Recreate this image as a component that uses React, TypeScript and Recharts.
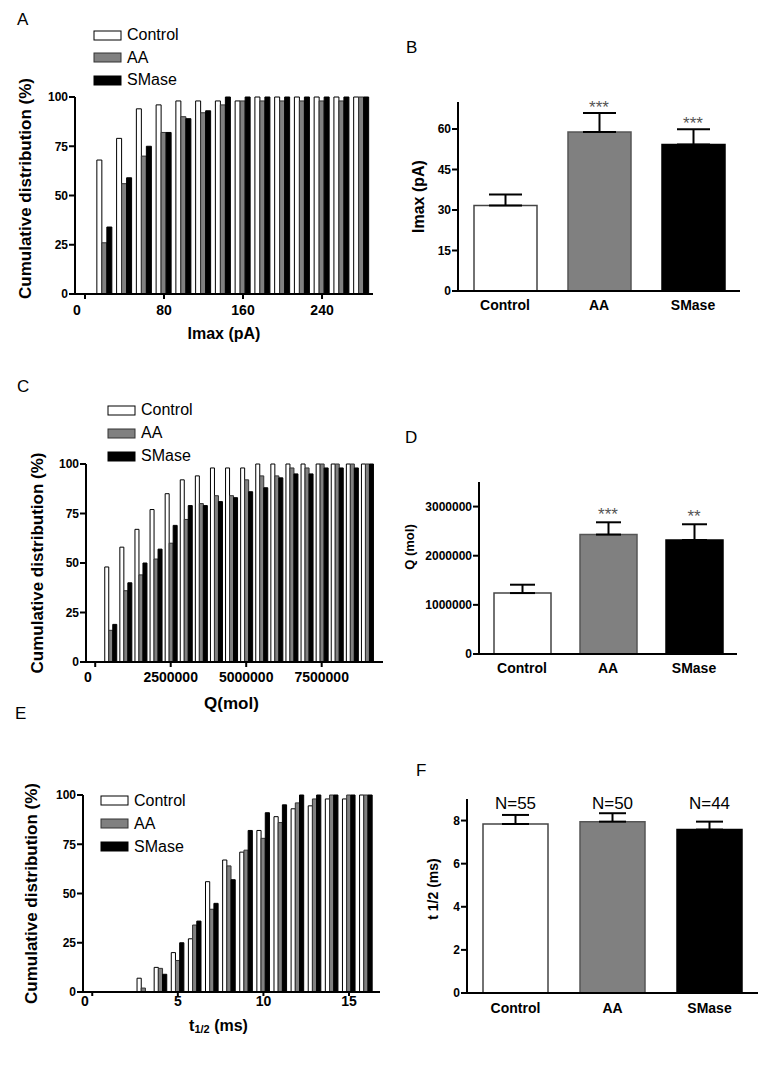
import React from "react";
import {
  BarChart,
  Bar,
  ComposedChart,
  Line,
  XAxis,
  YAxis,
  ErrorBar,
  LabelList,
  Label,
  Legend,
  Cell,
} from "recharts";

const groups = ["Control", "AA", "SMase"];
const fills = ["#ffffff", "#808080", "#000000"];
const histStrokes = ["#000000", "#333333", "#000000"];
const barStrokes = ["#444444", "#555555", "#000000"];

// A - Imax cumulative distribution (bin centre, pA)
const imaxBins = [20, 40, 60, 80, 100, 120, 140, 160, 180, 200, 220, 240, 260, 280];
const imaxControl = [68, 79, 94, 96, 98, 98, 98, 98, 100, 100, 100, 100, 100, 100];
const imaxAA = [26, 56, 70, 82, 90, 92, 96, 98, 98, 98, 98, 98, 98, 100];
const imaxSMase = [34, 59, 75, 82, 89, 93, 100, 100, 100, 100, 100, 100, 100, 100];
const imaxTicks = [0, 80, 160, 240];

// B - mean Imax
const imaxMean = [31.7, 58.9, 54.3];
const imaxSem = [4.0, 7.0, 5.6];
const imaxStars = ["", "***", "***"];

// C - Q cumulative distribution (bin centre, mol)
const qBins = [
  500000, 1000000, 1500000, 2000000, 2500000, 3000000, 3500000, 4000000, 4500000,
  5000000, 5500000, 6000000, 6500000, 7000000, 7500000, 8000000, 8500000, 9000000,
];
const qControl = [48, 58, 67, 77, 85, 92, 94, 98, 98, 98, 100, 100, 100, 100, 100, 100, 100, 100];
const qAA = [16, 36, 44, 52, 60, 72, 80, 84, 84, 92, 94, 94, 98, 98, 100, 100, 100, 100];
const qSMase = [19, 40, 50, 57, 69, 79, 79, 81, 83, 86, 88, 93, 95, 95, 98, 98, 98, 100];
const qTicks = [0, 2500000, 5000000, 7500000];

// D - mean Q
const qMean = [1240000, 2430000, 2320000];
const qSem = [170000, 250000, 320000];
const qStars = ["", "***", "**"];

// E - t1/2 cumulative distribution (bin centre, ms)
const tBins = [3, 4, 5, 6, 7, 8, 9, 10, 11, 12, 13, 14, 15, 16];
const tControl = [7, 12.5, 20, 27, 56, 67, 71, 82, 89, 93, 94.5, 98, 98, 100];
const tAA = [2, 12, 16, 34, 42, 64, 72, 78, 86, 96, 98, 100, 100, 100];
const tSMase = [0, 9, 25, 36, 45, 57, 82, 91, 95, 100, 100, 100, 100, 100];
const tTicks = [0, 5, 10, 15];

// F - mean t1/2
const tMean = [7.84, 7.95, 7.58];
const tSem = [0.42, 0.39, 0.37];
const tN = ["N=55", "N=50", "N=44"];

const axisStroke = { stroke: "#000", strokeWidth: 2 };

function YTitle({ viewBox, x, dy = 0, size, children }: any) {
  const cy = viewBox.y + viewBox.height / 2 + dy;
  return (
    <text
      x={x}
      y={cy}
      transform={`rotate(-90 ${x} ${cy})`}
      textAnchor="middle"
      dominantBaseline="central"
      fontWeight="bold"
      fontSize={size}
      fill="#000"
    >
      {children}
    </text>
  );
}

function XTitle({ viewBox, dx = 0, dy, size, children }: any) {
  const cx = viewBox.x + viewBox.width / 2 + dx;
  return (
    <text
      x={cx}
      y={viewBox.y + dy}
      textAnchor="middle"
      dominantBaseline="central"
      fontWeight="bold"
      fontSize={size}
      fill="#000"
    >
      {children}
    </text>
  );
}

function SwatchLegend({ rowH }: { rowH: number }) {
  return (
    <div>
      {groups.map((g, i) => (
        <div key={g} style={{ display: "flex", alignItems: "center", height: rowH }}>
          <svg width={29} height={11}>
            <rect x={1} y={1} width={27} height={9} fill={fills[i]} stroke={histStrokes[i]} strokeWidth={1} />
          </svg>
          <span style={{ marginLeft: 5, fontSize: 16, color: "#000" }}>{g}</span>
        </div>
      ))}
    </div>
  );
}

function Histogram(p: any) {
  const data = p.bins.map((x: number, i: number) => ({
    x,
    control: p.control[i],
    aa: p.aa[i],
    smase: p.smase[i],
  }));
  // GraphPad draws the "0" label at the start of the axis
  const renderTick = (tp: any) => (
    <text
      x={tp.payload.value === 0 ? p.yAxisWidth + 2 : tp.x}
      y={tp.y}
      dy="0.71em"
      textAnchor="middle"
      fontSize={14}
      fontWeight="bold"
      fill="#000"
    >
      {tp.payload.value}
    </text>
  );
  return (
    <div style={{ position: "absolute", left: 0, top: p.top }}>
      <BarChart
        width={p.width}
        height={p.height}
        data={data}
        barGap={0}
        margin={{ top: p.marginTop, right: p.marginRight, bottom: 0, left: 0 }}
      >
        <XAxis
          type="number"
          dataKey="x"
          domain={p.domain}
          ticks={p.ticks}
          allowDataOverflow
          interval={0}
          height={p.xHeight}
          axisLine={axisStroke}
          tickLine={axisStroke}
          tickSize={p.xTickSize}
          tickMargin={p.xTickMargin}
          tick={renderTick}
        >
          <Label
            content={(lp: any) => (
              <XTitle viewBox={lp.viewBox} dx={p.titleDx} dy={p.titleDy} size={p.titleSize}>
                {p.title}
              </XTitle>
            )}
          />
        </XAxis>
        <YAxis
          type="number"
          domain={[0, 100]}
          ticks={[0, 25, 50, 75, 100]}
          interval={0}
          width={p.yAxisWidth}
          axisLine={axisStroke}
          tickLine={axisStroke}
          tickSize={6}
          tickMargin={1}
          tick={{ fontSize: 12, fontWeight: "bold", fill: "#000" }}
        >
          <Label
            content={(lp: any) => (
              <YTitle viewBox={lp.viewBox} x={p.yTitleX} dy={p.yTitleDy} size={17}>
                Cumulative distribution (%)
              </YTitle>
            )}
          />
        </YAxis>
        <Legend
          layout="vertical"
          verticalAlign="middle"
          align="center"
          wrapperStyle={{ left: p.legendLeft, top: p.legendTop, width: 130 }}
          content={() => <SwatchLegend rowH={p.legendRow} />}
        />
        <Bar dataKey="control" fill={fills[0]} stroke={histStrokes[0]} strokeWidth={1} barSize={p.barSize} isAnimationActive={false} />
        <Bar dataKey="aa" fill={fills[1]} stroke={histStrokes[1]} strokeWidth={1} barSize={p.barSize} isAnimationActive={false} />
        <Bar dataKey="smase" fill={fills[2]} stroke={histStrokes[2]} strokeWidth={1} barSize={p.barSize} isAnimationActive={false} />
      </BarChart>
    </div>
  );
}

function Summary(p: any) {
  const data = groups.map((name, i) => ({
    name,
    value: p.values[i],
    err: [0, p.errors[i]],
    top: p.values[i] + p.errors[i],
    mark: p.marks ? p.marks[i] : "",
    n: p.nLabels ? p.nLabels[i] : "",
  }));
  return (
    <div style={{ position: "absolute", left: 400, top: p.top }}>
      <ComposedChart
        width={p.width}
        height={p.height}
        data={data}
        margin={{ top: p.marginTop, right: 5, bottom: 0, left: 0 }}
      >
        <XAxis
          dataKey="name"
          height={30}
          axisLine={axisStroke}
          tickLine={false}
          tickSize={5}
          tickMargin={p.xTickMargin}
          tick={{ fontSize: 14, fontWeight: "bold", fill: "#000" }}
        />
        <YAxis
          type="number"
          domain={p.domain}
          ticks={p.ticks}
          interval={0}
          width={p.yAxisWidth}
          axisLine={axisStroke}
          tickLine={axisStroke}
          tickSize={6}
          tickMargin={1}
          tick={{ fontSize: 12, fontWeight: "bold", fill: "#000" }}
        >
          <Label
            content={(lp: any) => (
              <YTitle viewBox={lp.viewBox} x={p.titleX} dy={p.titleDy} size={p.titleSize}>
                {p.title}
              </YTitle>
            )}
          />
        </YAxis>
        <Bar dataKey="value" barSize={p.barSize} strokeWidth={1.5} isAnimationActive={false}>
          {groups.map((g, i) => (
            <Cell key={g} fill={fills[i]} stroke={barStrokes[i]} />
          ))}
          <ErrorBar dataKey="err" direction="y" width={p.capWidth} stroke="#000" strokeWidth={2} />
          {p.nLabels && (
            <LabelList
              dataKey="n"
              content={(lp: any) => (
                <text
                  x={lp.x + lp.width / 2}
                  y={p.marginTop + 10}
                  textAnchor="middle"
                  fontSize={17}
                  fill="#000"
                >
                  {lp.value}
                </text>
              )}
            />
          )}
        </Bar>
        {p.marks && (
          <Line
            dataKey="top"
            stroke="none"
            dot={false}
            activeDot={false}
            legendType="none"
            isAnimationActive={false}
          >
            <LabelList dataKey="mark" position="top" offset={p.starOffset} fill="#555" fontSize={17} />
          </Line>
        )}
      </ComposedChart>
    </div>
  );
}

function Letter({ left, top, children }: any) {
  return (
    <div style={{ position: "absolute", left, top, fontSize: 17, lineHeight: 1, color: "#000" }}>
      {children}
    </div>
  );
}

export default function App() {
  return (
    <div
      style={{
        position: "absolute",
        left: 0,
        top: 0,
        width: 767,
        height: 1067,
        background: "#fff",
        fontFamily: '"Liberation Sans", Arial, sans-serif',
      }}
    >
      <Letter left={17} top={11}>A</Letter>
      <Letter left={406} top={39}>B</Letter>
      <Letter left={17} top={378}>C</Letter>
      <Letter left={405} top={429}>D</Letter>
      <Letter left={15} top={705}>E</Letter>
      <Letter left={416} top={762}>F</Letter>

      <Histogram
        top={20}
        width={380}
        height={330}
        marginTop={77}
        marginRight={7}
        yAxisWidth={75}
        xHeight={56}
        domain={[-10.1, 291.6]}
        ticks={imaxTicks}
        bins={imaxBins}
        control={imaxControl}
        aa={imaxAA}
        smase={imaxSMase}
        barSize={5}
        xTickSize={5}
        xTickMargin={6}
        title="Imax (pA)"
        titleSize={16}
        titleDx={0}
        titleDy={39}
        yTitleX={25}
        yTitleDy={-7}
        legendLeft={93}
        legendTop={4}
        legendRow={22.5}
      />

      <Summary
        top={92}
        width={345}
        height={229}
        marginTop={10}
        yAxisWidth={58}
        domain={[0, 70]}
        ticks={[0, 15, 30, 45, 60]}
        values={imaxMean}
        errors={imaxSem}
        marks={imaxStars}
        starOffset={0}
        barSize={63}
        capWidth={16.5}
        xTickMargin={4}
        title="Imax (pA)"
        titleSize={16}
        titleX={18}
        titleDy={0}
      />

      <Histogram
        top={395}
        width={390}
        height={327}
        marginTop={69}
        marginRight={7}
        yAxisWidth={86}
        xHeight={60}
        domain={[-305000, 9530000]}
        ticks={qTicks}
        bins={qBins}
        control={qControl}
        aa={qAA}
        smase={qSMase}
        barSize={4}
        xTickSize={5}
        xTickMargin={5}
        title="Q(mol)"
        titleSize={17}
        titleDx={-3}
        titleDy={41}
        yTitleX={37}
        yTitleDy={0}
        legendLeft={107}
        legendTop={3.5}
        legendRow={23}
      />

      <Summary
        top={472}
        width={342}
        height={212}
        marginTop={10}
        yAxisWidth={79}
        domain={[0, 3500000]}
        ticks={[0, 1000000, 2000000, 3000000]}
        values={qMean}
        errors={qSem}
        marks={qStars}
        starOffset={2}
        barSize={57}
        capWidth={12.5}
        xTickMargin={4}
        title="Q (mol)"
        titleSize={13}
        titleX={9}
        titleDy={-21}
      />

      <Histogram
        top={772}
        width={387}
        height={270}
        marginTop={23}
        marginRight={7}
        yAxisWidth={83}
        xHeight={50}
        domain={[-0.54, 16.81]}
        ticks={tTicks}
        bins={tBins}
        control={tControl}
        aa={tAA}
        smase={tSMase}
        barSize={4.2}
        xTickSize={4}
        xTickMargin={0}
        title={
          <>
            t<tspan dy={4} fontSize={11}>1/2</tspan>
            <tspan dy={-4}> (ms)</tspan>
          </>
        }
        titleSize={16}
        titleDx={-13}
        titleDy={33}
        yTitleX={31}
        yTitleDy={0}
        legendLeft={100}
        legendTop={17}
        legendRow={23}
      />

      <Summary
        top={789}
        width={363}
        height={234}
        marginTop={10}
        yAxisWidth={67}
        domain={[0, 9]}
        ticks={[0, 2, 4, 6, 8]}
        values={tMean}
        errors={tSem}
        nLabels={tN}
        barSize={65}
        capWidth={13.5}
        xTickMargin={5}
        title="t 1/2 (ms)"
        titleSize={14}
        titleX={33}
        titleDy={-7}
      />
    </div>
  );
}
